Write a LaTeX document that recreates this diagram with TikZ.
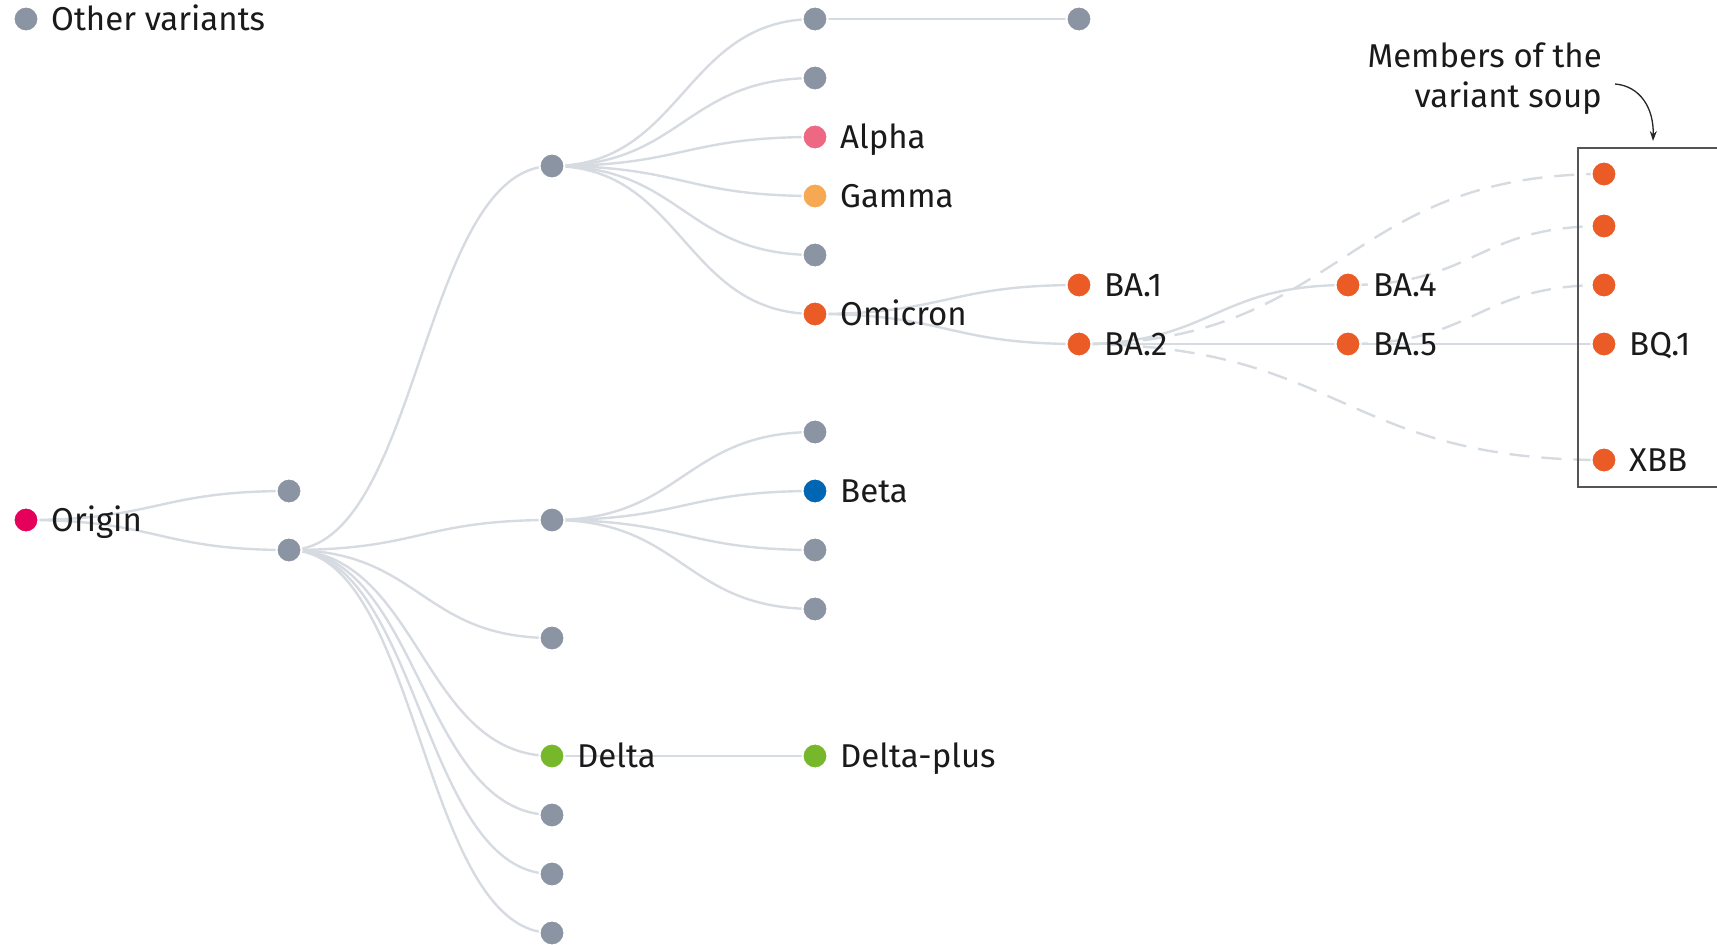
\documentclass[tikz,border=0pt]{standalone}
\usepackage{fontspec}
\setmainfont{Fira Sans}
\usetikzlibrary{arrows.meta,calc}
\definecolor{dotgray}{HTML}{8A94A2}
\definecolor{linegray}{HTML}{D6DBE1}
\definecolor{origincol}{HTML}{E4005B}
\definecolor{alphacol}{HTML}{EE6883}
\definecolor{gammacol}{HTML}{F6A853}
\definecolor{omicol}{HTML}{EA5B25}
\definecolor{betacol}{HTML}{0066B3}
\definecolor{deltacol}{HTML}{77B82A}
\definecolor{boxcol}{HTML}{555555}
\definecolor{txtcol}{HTML}{1A1A1A}
\newcommand\lk[3]{\draw[#1] let \p1=(#2.center), \p2=(#3.center), \n1={(\x2-\x1)/2} in (\p1) .. controls +(\n1,0) and +(-\n1,0) .. (\p2);}
\begin{document}
\begin{tikzpicture}[x=1pt,y=-1pt,
  dot/.style={circle,fill=#1,draw=white,line width=2pt,minimum size=25pt,inner sep=0pt},
  dot/.default=dotgray,
  link/.style={draw=linegray,line width=2.4pt},
  dlink/.style={draw=linegray,line width=2.4pt,dash pattern=on 20pt off 12pt},
  lab/.style={anchor=base west,font=\fontsize{33}{40}\selectfont,text=txtcol,inner sep=0pt,xshift=25pt,yshift=-11.5pt}
]
\useasboundingbox (0,0) rectangle (1717,945);
% coordinates of dots
\coordinate (oth) at (26,19);
\coordinate (org) at (26,520);
\coordinate (l1a) at (289,491);
\coordinate (l1b) at (289,550);
\coordinate (l2a) at (552,166);
\coordinate (l2b) at (552,520);
\coordinate (l2c) at (552,638);
\coordinate (dlt) at (552,756);
\coordinate (l2e) at (552,815);
\coordinate (l2f) at (552,874);
\coordinate (l2g) at (552,933);
\coordinate (l3a) at (815,19);
\coordinate (l3b) at (815,78);
\coordinate (alp) at (815,137);
\coordinate (gam) at (815,196);
\coordinate (l3e) at (815,255);
\coordinate (omi) at (815,314);
\coordinate (l3g) at (815,432);
\coordinate (bet) at (815,491);
\coordinate (l3i) at (815,550);
\coordinate (l3j) at (815,609);
\coordinate (dpl) at (815,756);
\coordinate (l4a) at (1079,19);
\coordinate (ba1) at (1079,285);
\coordinate (ba2) at (1079,344);
\coordinate (ba4) at (1348,285);
\coordinate (ba5) at (1348,344);
\coordinate (s1) at (1604,174);
\coordinate (s2) at (1604,226);
\coordinate (s3) at (1604,285);
\coordinate (bq1) at (1604,344);
\coordinate (xbb) at (1604,460);
% links
\lk{link}{org}{l1a}
\lk{link}{org}{l1b}
\foreach \t in {l2a,l2b,l2c,dlt,l2e,l2f,l2g}{\lk{link}{l1b}{\t}}
\foreach \t in {l3a,l3b,alp,gam,l3e,omi}{\lk{link}{l2a}{\t}}
\foreach \t in {l3g,bet,l3i,l3j}{\lk{link}{l2b}{\t}}
\draw[link] (l3a) -- (l4a);
\draw[link] (dlt) -- (dpl);
\lk{link}{omi}{ba1}
\lk{link}{omi}{ba2}
\lk{link}{ba2}{ba4}
\draw[link] (ba2) -- (ba5);
\draw[link] (ba5) -- (bq1);
\lk{dlink}{ba2}{s1}
\lk{dlink}{ba4}{s2}
\lk{dlink}{ba5}{s3}
\lk{dlink}{ba2}{xbb}
% box
\draw[boxcol,line width=1.5pt] (1760,148) -- (1578,148) -- (1578,487) -- (1760,487);
% dots
\foreach \n in {oth,l1a,l1b,l2a,l2b,l2c,l2e,l2f,l2g,l3a,l3b,l3e,l3g,l3i,l3j,l4a}{\node[dot] (d\n) at (\n) {};}
\node[dot=origincol] (dorg) at (org) {};
\node[dot=alphacol] (dalp) at (alp) {};
\node[dot=gammacol] (dgam) at (gam) {};
\node[dot=betacol] (dbet) at (bet) {};
\node[dot=deltacol] (ddlt) at (dlt) {};
\node[dot=deltacol] (ddpl) at (dpl) {};
\foreach \n in {omi,ba1,ba2,ba4,ba5,s1,s2,s3,bq1,xbb}{\node[dot=omicol] (d\n) at (\n) {};}
% labels
\node[lab] (toth) at (oth) {Other variants};
\node[lab] (torg) at (org) {Origin};
\node[lab] (talp) at (alp) {Alpha};
\node[lab] (tgam) at (gam) {Gamma};
\node[lab] (tomi) at (omi) {Omicron};
\node[lab] (tbet) at (bet) {Beta};
\node[lab] (tdlt) at (dlt) {Delta};
\node[lab] (tdpl) at (dpl) {Delta-plus};
\node[lab] (tba1) at (ba1) {BA.1};
\node[lab] (tba2) at (ba2) {BA.2};
\node[lab] (tba4) at (ba4) {BA.4};
\node[lab] (tba5) at (ba5) {BA.5};
\node[lab] (tbq1) at (bq1) {BQ.1};
\node[lab] (txbb) at (xbb) {XBB};
% annotation
\node[anchor=base east,font=\fontsize{33}{40}\selectfont,text=txtcol,inner sep=0pt] (ann1) at (1602,67) {Members of the};
\node[anchor=base east,font=\fontsize{33}{40}\selectfont,text=txtcol,inner sep=0pt] (ann2) at (1602,107) {variant soup};
\coordinate (arrS) at (1615,84);
\coordinate (arrE) at (1653,141);
\draw[black!85,line width=1.3pt,-{Stealth[length=10pt,width=7pt]}] (arrS) .. controls (1640,86) and (1654,108) .. (arrE);
\end{tikzpicture}
\end{document}
